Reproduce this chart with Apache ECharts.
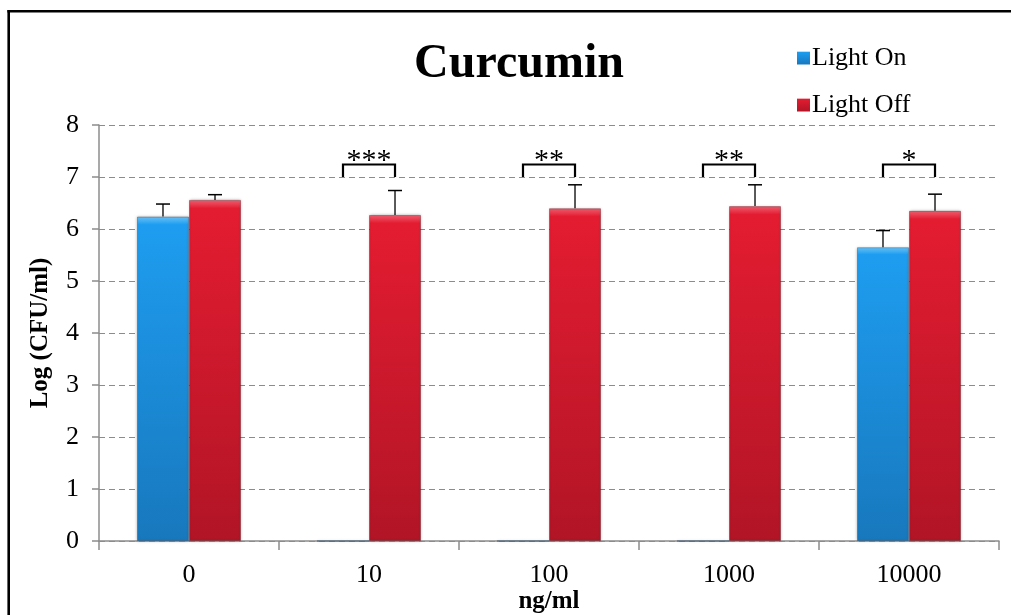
<!DOCTYPE html>
<html>
<head>
<meta charset="utf-8">
<script src="https://cdn.jsdelivr.net/npm/echarts@6/dist/echarts.min.js"></script>
<style>html,body{margin:0;padding:0;background:#fff;overflow:hidden;}#c{width:1011px;height:615px;}</style>
</head>
<body>
<div id="c"></div>
<script>
const categories = ['0', '10', '100', '1000', '10000'];
const lightOn = [6.24, 0, 0, 0, 5.65];
const lightOnTop = [6.48, 0, 0, 0, 5.97];
const lightOff = [6.56, 6.27, 6.40, 6.44, 6.35];
const lightOffTop = [6.66, 6.74, 6.85, 6.85, 6.67];
const sigLabels = ['', '***', '**', '**', '*'];
const yTicks = [0, 1, 2, 3, 4, 5, 6, 7, 8];

const FONT = 'Liberation Serif, Times New Roman, serif';
const CAT_GAP = 0.422;

const errData = [];
categories.forEach((c, i) => {
  if (lightOn[i] > 0) errData.push([i, lightOn[i], lightOnTop[i], -1]);
  errData.push([i, lightOff[i], lightOffTop[i], 1]);
});
const sigData = [];
categories.forEach((c, i) => { if (sigLabels[i]) sigData.push([i, 7.0, 7.24, 7.42, sigLabels[i]]); });

const blueGrad = new echarts.graphic.LinearGradient(0, 0, 0, 1, [
  {offset: 0, color: '#6cc4f7'}, {offset: 0.025, color: '#1e9df0'}, {offset: 1, color: '#1878bd'}
]);
const redGrad = new echarts.graphic.LinearGradient(0, 0, 0, 1, [
  {offset: 0, color: '#f06070'}, {offset: 0.025, color: '#e41c31'}, {offset: 1, color: '#b11526'}
]);

const chart = echarts.init(document.getElementById('c'), null, {renderer: 'canvas'});
chart.setOption({
  animation: false,
  backgroundColor: '#fff',
  title: {
    text: 'Curcumin', left: 514, top: 36, textAlign: 'center',
    textStyle: {fontFamily: FONT, fontSize: 48, fontWeight: 'bold', color: '#000'}
  },
  legend: {
    orient: 'vertical', left: 792, top: 40, itemWidth: 13, itemHeight: 13, itemGap: 21,
    icon: 'rect', itemStyle: {borderWidth: 0},
    textStyle: {fontFamily: FONT, fontSize: 26, color: '#000', lineHeight: 26, padding: [0, 0, 0, -3]},
    data: [{name: 'Light On', itemStyle: {color: blueGrad}}, {name: 'Light Off', itemStyle: {color: redGrad}}]
  },
  grid: {left: 99, right: 12, top: 125, bottom: 74, containLabel: false, outerBoundsMode: 'none'},
  xAxis: {
    type: 'category', data: categories,
    axisLine: {lineStyle: {color: '#8c8c8c', width: 1.5}},
    axisTick: {show: true, length: 9, lineStyle: {color: '#8c8c8c', width: 1.5}},
    axisLabel: {fontFamily: FONT, fontSize: 26, color: '#000', margin: 21}
  },
  yAxis: {
    type: 'value', min: 0, max: 8, interval: 1,
    name: 'Log (CFU/ml)', nameLocation: 'middle', nameGap: 46,
    nameTextStyle: {fontFamily: FONT, fontSize: 25, fontWeight: 'bold', color: '#000'},
    axisLine: {show: true, lineStyle: {color: '#8c8c8c', width: 1.5}},
    axisTick: {show: true, inside: false, length: 7, lineStyle: {color: '#8c8c8c', width: 1.5}},
    axisLabel: {fontFamily: FONT, fontSize: 26, color: '#000', margin: 20,
      formatter: v => yTicks.includes(v) ? String(v) : ''},
    splitLine: {show: true, lineStyle: {color: '#8c8c8c', type: [6, 4], width: 1.2}}
  },
  series: [
    {
      name: 'Light On', type: 'bar', data: lightOn, barGap: '0%', barCategoryGap: (CAT_GAP * 100) + '%',
      itemStyle: {color: blueGrad, borderColor: 'rgba(20,60,100,0.35)', borderWidth: 1,
        shadowColor: 'rgba(0,0,0,0.25)', shadowBlur: 3}
    },
    {
      name: 'Light Off', type: 'bar', data: lightOff, barGap: '0%', barCategoryGap: (CAT_GAP * 100) + '%',
      itemStyle: {color: redGrad, borderColor: 'rgba(90,10,20,0.35)', borderWidth: 1,
        shadowColor: 'rgba(0,0,0,0.25)', shadowBlur: 3}
    },
    {
      type: 'custom', name: 'err', data: errData, z: 5, silent: true,
      encode: {x: 0, y: [1, 2]},
      renderItem: function (params, api) {
        const cat = api.value(0);
        const band = api.size([1, 0])[0];
        const barW = band * (1 - CAT_GAP) / 2;
        const base = api.coord([cat, api.value(1)]);
        const top = api.coord([cat, api.value(2)]);
        const x = base[0] + api.value(3) * barW / 2;
        const cap = 7;
        return {
          type: 'group', children: [
            {type: 'line', shape: {x1: x, y1: base[1], x2: x, y2: top[1]}, style: {stroke: '#000', lineWidth: 1.3}},
            {type: 'line', shape: {x1: x - cap, y1: top[1], x2: x + cap, y2: top[1]}, style: {stroke: '#000', lineWidth: 1.5}}
          ]
        };
      }
    },
    {
      type: 'custom', name: 'sig', data: sigData, z: 6, silent: true,
      encode: {x: 0, y: [1, 2, 3]},
      renderItem: function (params, api) {
        const cat = api.value(0);
        const band = api.size([1, 0])[0];
        const barW = band * (1 - CAT_GAP) / 2;
        const b = api.coord([cat, api.value(1)]);
        const t = api.coord([cat, api.value(2)]);
        const s = api.coord([cat, api.value(3)]);
        const x1 = b[0] - barW / 2, x2 = b[0] + barW / 2;
        return {
          type: 'group', children: [
            {type: 'polyline', shape: {points: [[x1, b[1]], [x1, t[1]], [x2, t[1]], [x2, b[1]]]},
              style: {stroke: '#000', lineWidth: 2.2, fill: null}},
            {type: 'text', x: b[0], y: s[1] + 6,
              style: {text: api.value(4), fontFamily: FONT, fontSize: 30, fill: '#000', align: 'center', verticalAlign: 'middle'}}
          ]
        };
      }
    }
  ],
  graphic: [
    {type: 'text', id: 'xname', x: 549, y: 602,
      style: {text: 'ng/ml', fontFamily: 'Liberation Serif', fontSize: 25, fontWeight: 'bold', fill: '#000', align: 'center', verticalAlign: 'middle'}, z: 50},
    {type: 'rect', id: 'frameL', shape: {x: 7.4, y: 10, width: 2.6, height: 620}, style: {fill: '#000'}, z: 100},
    {type: 'rect', id: 'frameT', shape: {x: 7.4, y: 10, width: 1020, height: 2.6}, style: {fill: '#000'}, z: 100}
  ]
});
</script>
</body>
</html>
